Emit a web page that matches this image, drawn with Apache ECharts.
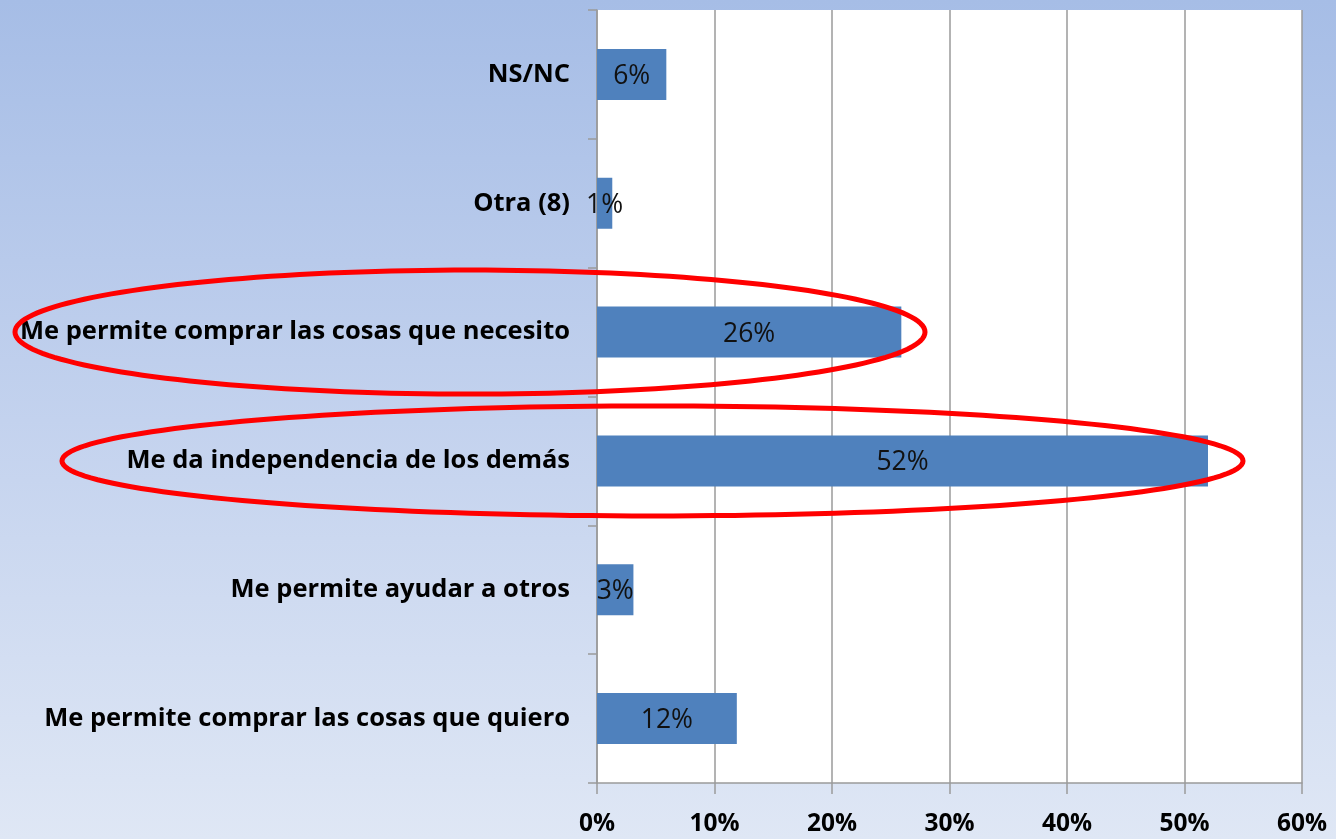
<!DOCTYPE html>
<html><head><meta charset="utf-8">
<script src="https://cdn.jsdelivr.net/npm/echarts@6/dist/echarts.min.js"></script>
<style>html,body{margin:0;padding:0;}#c{width:1336px;height:839px;background:linear-gradient(to bottom,#a6bde6 0%,#c3d2ee 50%,#dfe7f5 100%);}</style>
</head><body><div id="c"></div>
<script>
const categories = ["Me permite comprar las cosas que quiero","Me permite ayudar a otros","Me da independencia de los demás","Me permite comprar las cosas que necesito","Otra (8)","NS/NC"];
const values = [11.9, 3.1, 52.0, 25.9, 1.3, 5.9];
const xTicks = [0, 10, 20, 30, 40, 50, 60];
const highlighted = ["Me permite comprar las cosas que necesito","Me da independencia de los demás"];

const chart = echarts.init(document.getElementById('c'), null, {renderer:'canvas'});
const font = "'Open Sans', 'Liberation Sans', sans-serif";
chart.setOption({
  backgroundColor: 'transparent',
  animation: false,
  grid: {left: 597, right: 34, top: 10, bottom: 56, show: true, backgroundColor: '#ffffff', borderWidth: 0},
  xAxis: {
    type: 'value', min: xTicks[0], max: xTicks[xTicks.length-1], interval: 10,
    axisLine: {show: true, lineStyle: {color: '#9a9a9a', width: 1.5}},
    axisTick: {show: true, length: 11, lineStyle: {color: '#9a9a9a', width: 1.5}},
    splitLine: {show: true, lineStyle: {color: '#9a9a9a', width: 1.5}},
    axisLabel: {formatter: v => v + '%', color: '#000', fontSize: 24.5, fontWeight: 'bold', fontFamily: font, margin: 29}
  },
  yAxis: {
    type: 'category', data: categories,
    axisLine: {show: true, lineStyle: {color: '#9a9a9a', width: 1.5}},
    axisTick: {show: true, length: 9, lineStyle: {color: '#9a9a9a', width: 1.5}},
    axisLabel: {color: '#000', fontSize: 25.5, fontWeight: 'bold', fontFamily: font, margin: 27, padding: [4, 0, 0, 0]}
  },
  series: [{
    type: 'bar', data: values, barWidth: 51,
    itemStyle: {color: '#4f81bd'},
    label: {show: true, position: 'inside', offset: [0, 2], formatter: p => Math.round(p.value) + '%', color: '#111', fontSize: 26.5, fontFamily: font}
  }]
});

// red ellipse annotations around highlighted categories
const ellipses = [
  {cat: highlighted[0], x1: 15, x2: 925, ry: 62},
  {cat: highlighted[1], x1: 62, x2: 1243, ry: 55}
];
const elems = ellipses.map(e => {
  const cy = chart.convertToPixel({yAxisIndex: 0}, e.cat);
  const cx = (e.x1 + e.x2) / 2, rx = (e.x2 - e.x1) / 2;
  const pts = [];
  for (let i = 0; i < 180; i++) {
    const t = i / 180 * Math.PI * 2;
    pts.push([cx + rx * Math.cos(t), cy + e.ry * Math.sin(t)]);
  }
  return {type: 'polygon', shape: {points: pts, smooth: 0}, style: {fill: 'none', stroke: '#ff0000', lineWidth: 5}, z: 100};
});
chart.setOption({graphic: elems});
</script></body></html>
